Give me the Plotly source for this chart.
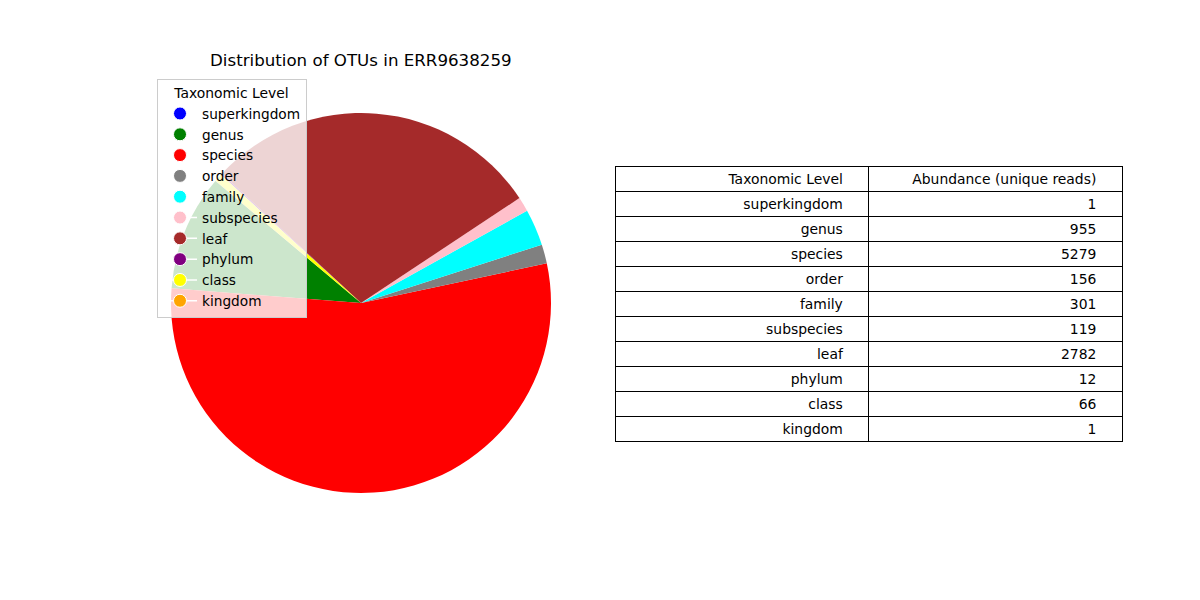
import plotly.graph_objects as go

levels = ["superkingdom", "genus", "species", "order", "family",
          "subspecies", "leaf", "phylum", "class", "kingdom"]
abundance = [1, 955, 5279, 156, 301, 119, 2782, 12, 66, 1]
colors = ["blue", "green", "red", "gray", "cyan",
          "pink", "brown", "purple", "yellow", "orange"]
title_text = "Distribution of OTUs in ERR9638259"
table_header = ["Taxonomic Level", "Abundance (unique reads)"]

W, H = 1200, 600
OX, OY = 8, 8  # page body margin offset
FONT = "DejaVu Sans"


def px(x):
    return (x - OX) / W


def py(y):
    return 1 - (y - OY) / H


# matplotlib-style start angle 140 deg (ccw from 3 o'clock) -> plotly rotation
start_angle = 140
total = sum(abundance)
rotation = 90 - start_angle - 360 * abundance[0] / total

cx, cy, r = 361, 303, 190

fig = go.Figure()
fig.add_trace(go.Pie(
    labels=levels, values=abundance, sort=False,
    direction="counterclockwise", rotation=rotation,
    marker=dict(colors=colors, line=dict(width=0)),
    textinfo="none", showlegend=False,
    domain=dict(x=[px(cx - r), px(cx + r)],
                y=[py(cy + r), py(cy - r)]),
))

# legend proxies
for lv, c in zip(levels, colors):
    fig.add_trace(go.Scatter(
        x=[None], y=[None], mode="lines+markers", name=lv,
        line=dict(color="white", width=1.5),
        marker=dict(color=c, size=13, line=dict(color="white", width=1)),
    ))

pad = "\u00a0" * 4
fig.add_trace(go.Table(
    columnwidth=[1, 1],
    header=dict(values=[h + pad for h in table_header],
                align="right", height=25,
                line=dict(color="black", width=1),
                fill=dict(color="white"),
                font=dict(family=FONT, size=13.9, color="black")),
    cells=dict(values=[[l + pad for l in levels],
                       [str(v) + pad for v in abundance]],
               align="right", height=25,
               line=dict(color="black", width=1),
               fill=dict(color="white"),
               font=dict(family=FONT, size=13.9, color="black")),
    domain=dict(x=[px(615), px(1122)], y=[py(445), py(166)]),
))

fig.add_annotation(text=title_text, x=px(cx), y=py(60),
                   xref="paper", yref="paper", xanchor="center",
                   yanchor="middle", showarrow=False,
                   font=dict(family=FONT, size=16.67, color="black"))

fig.update_layout(
    width=W, height=H,
    margin=dict(l=0, r=0, t=0, b=0),
    paper_bgcolor="white", plot_bgcolor="white",
    font=dict(family=FONT, size=13.9, color="black"),
    xaxis=dict(visible=False), yaxis=dict(visible=False),
    legend=dict(
        x=px(157), y=py(79), xanchor="left", yanchor="top",
        bgcolor="rgba(255,255,255,0.8)", bordercolor="#cccccc",
        borderwidth=1, traceorder="normal", itemwidth=34,
        title=dict(text="Taxonomic Level", side="top center",
                   font=dict(family=FONT, size=13.9)),
        font=dict(family=FONT, size=13.7),
    ),
)

fig.write_html("out.html")
